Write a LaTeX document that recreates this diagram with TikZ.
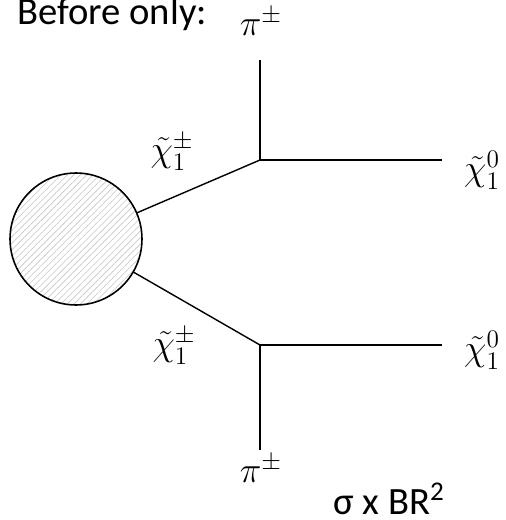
\documentclass[tikz,border=0pt]{standalone}
\usepackage{fontspec}
\newfontfamily\calib{Carlito}
\usetikzlibrary{patterns.meta}

\begin{document}
\begin{tikzpicture}[x=0.02cm,y=-0.02cm,
  leg/.style={line width=0.8pt},
  lab/.style={font=\fontsize{22}{26}\selectfont,inner sep=0pt},
  note/.style={font=\calib\fontsize{22}{26}\selectfont,inner sep=0pt,anchor=base west}]
\useasboundingbox (0,0) rectangle (506,520);
% blob
\node[circle,draw,line width=0.9pt,minimum size=2.64cm,inner sep=0pt,
  pattern={Lines[angle=45,distance=2.6pt,line width=0.35pt]},pattern color=gray!45] (blob) at (76,239) {};
% vertices and ends
\coordinate (vtop) at (260,160);
\coordinate (vbot) at (260,345);
\coordinate (pitop) at (260,60);
\coordinate (pibot) at (260,450);
\coordinate (ntop) at (442,160);
\coordinate (nbot) at (442,345);
\draw[leg] (blob) -- (vtop);
\draw[leg] (blob) -- (vbot);
\draw[leg] (pitop) -- (vtop) -- (ntop);
\draw[leg] (pibot) -- (vbot) -- (nbot);
% labels
\node[lab] (lpitop) at (261,22) {$\pi^{\pm}$};
\node[lab] (lpibot) at (261,469) {$\pi^{\pm}$};
\node[lab] (lchtop) at (172,152) {$\tilde{\chi}_1^{\pm}$};
\node[lab] (lchbot) at (174,346) {$\tilde{\chi}_1^{\pm}$};
\node[lab] (lnetop) at (482,170) {$\tilde{\chi}_1^{0}$};
\node[lab] (lnebot) at (482,350) {$\tilde{\chi}_1^{0}$};
\node[note] (before) at (17,25) {Before only:};
\node[note] (sigma) at (333,514) {σ x BR\textsuperscript{2}};
\end{tikzpicture}
\end{document}
